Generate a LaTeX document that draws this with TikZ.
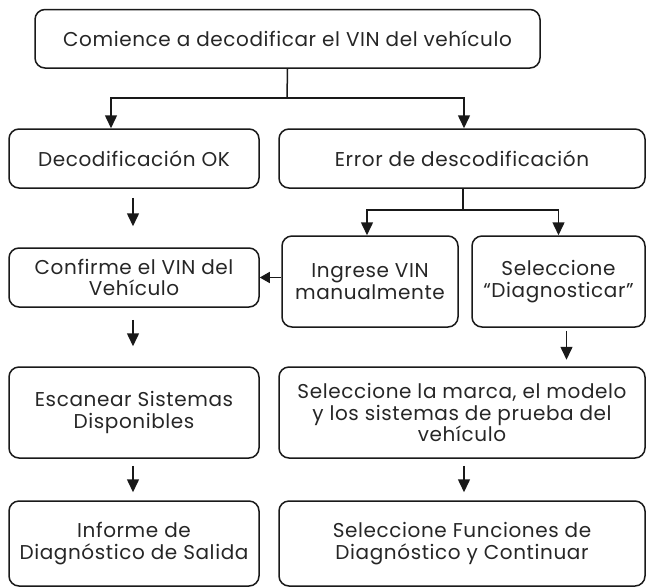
\documentclass[tikz,border=0pt]{standalone}
\usepackage{fontspec}
\setmainfont{Poppins}[LetterSpace=3]
\usetikzlibrary{arrows.meta}
\begin{document}
\begin{tikzpicture}[x=1pt,y=-1pt,
  box/.style={draw=black!90, line width=1.5pt, rounded corners=10pt, align=center,
    inner sep=2pt, font=\fontsize{20}{21.5}\selectfont, text=black!85},
  arr/.style={draw=black!90, line width=1.5pt, -{Triangle[length=13pt,width=12pt]}},
  ln/.style={draw=black!90, line width=1.5pt}]
\useasboundingbox (0,0) rectangle (647,587);
\node[box, minimum width=505pt, minimum height=58.5pt] (top) at (287.5,38.75) {Comience a decodificar el VIN del vehículo};
\node[box, minimum width=250pt, minimum height=59pt] (dok) at (134,158.5) {Decodificación OK};
\node[box, minimum width=366pt, minimum height=59pt] (err) at (462,158.5) {Error de descodificación};
\node[box, minimum width=250pt, minimum height=59pt] (conf) at (134,277.5) {Confirme el VIN del\\Vehículo};
\node[box, minimum width=176pt, minimum height=91pt] (ingr) at (370,281.5) {Ingrese VIN\\manualmente};
\node[box, minimum width=173pt, minimum height=91pt] (diag) at (558.5,281.5) {Seleccione\\“Diagnosticar”};
\node[box, minimum width=250pt, minimum height=91pt] (scan) at (134,412.5) {Escanear Sistemas\\Disponibles};
\node[box, minimum width=366pt, minimum height=91pt] (marca) at (462,412.5) {Seleccione la marca, el modelo\\y los sistemas de prueba del\\vehículo};
\node[box, minimum width=250pt, minimum height=85pt] (inf) at (134,543.5) {Informe de\\Diagnóstico de Salida};
\node[box, minimum width=366pt, minimum height=85pt] (func) at (462,543.5) {Seleccione Funciones de\\Diagnóstico y Continuar};
% top split
\coordinate (j1) at (287,98);
\draw[ln] (top.south) -- (j1);
\draw[arr] (j1) -| ([xshift=-23pt]dok.north);
\draw[arr] (j1) -| ([xshift=2pt]err.north);
% error split
\coordinate (j2) at (463,210);
\draw[ln] ([xshift=1pt]err.south) -- (j2);
\draw[arr] (j2) -| ([xshift=-3pt]ingr.north);
\draw[arr] (j2) -| (diag.north);
% left column
\draw[arr] ([xshift=-1pt,yshift=-9pt]dok.south) -- ([xshift=-1pt,yshift=21pt]conf.north);
\draw[arr, -{Triangle[length=10pt,width=11pt]}] (ingr.west |- conf.east) -- (conf.east);
\draw[arr] ([xshift=-1pt,yshift=-12pt]conf.south) -- ([xshift=-1pt,yshift=20pt]scan.north);
\draw[arr] ([xshift=-1pt,yshift=-7pt]scan.south) -- ([xshift=-1pt,yshift=8pt]inf.north);
% right column
\draw[arr] ([xshift=8pt,yshift=-3pt]diag.south) -- ([xshift=8pt,yshift=-32pt]diag.south);
\draw[arr] ([xshift=2pt,yshift=-7pt]marca.south) -- ([xshift=2pt,yshift=8pt]func.north);
\end{tikzpicture}
\end{document}
